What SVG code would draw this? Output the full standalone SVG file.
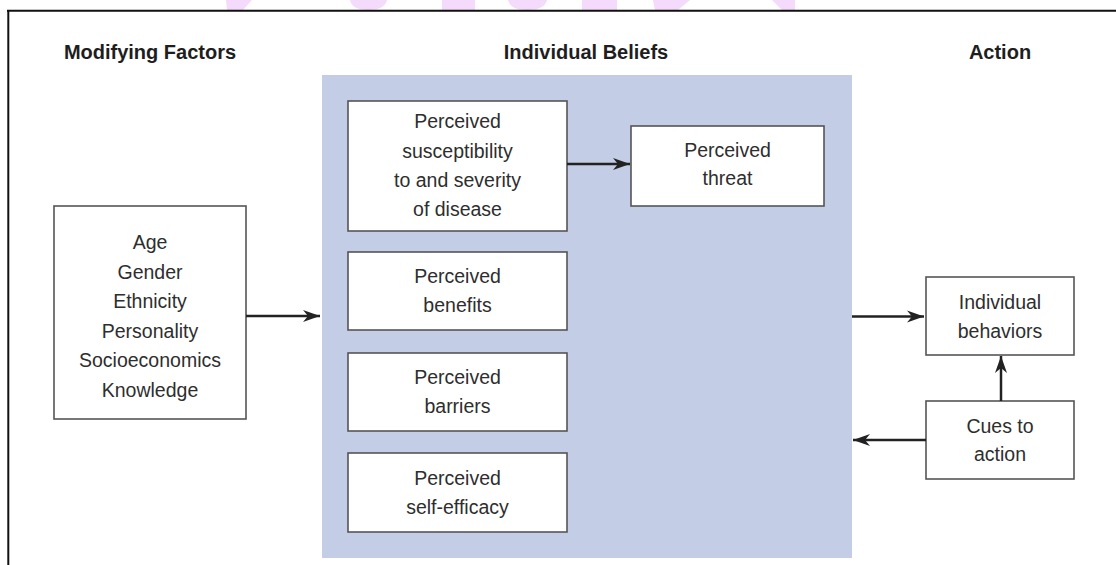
<svg xmlns="http://www.w3.org/2000/svg" width="1116" height="565" viewBox="0 0 1116 565">
<style>
.title{font-family:"Liberation Sans",Arial,sans-serif;font-weight:bold;font-size:20px;fill:#1e1e1e;text-anchor:middle}
.lbl{font-family:"Liberation Sans",Arial,sans-serif;font-size:19.5px;fill:#2e2e2e;text-anchor:middle}
.box{fill:#fff;stroke:#555;stroke-width:1.6}
.conn{stroke:#222;stroke-width:2.5;fill:none}
.wm{fill:#f4dafb}
</style>
<defs>
<marker id="ah" markerUnits="userSpaceOnUse" markerWidth="18" markerHeight="14" refX="17" refY="7" orient="auto">
<path d="M0,1 L17,7 L0,13 L5,7 Z" fill="#222"/>
</marker>
</defs>
<rect width="1116" height="565" fill="#fff"/>
<g id="watermark">
<polygon class="wm" points="226,0 252,0 243,10 227,10"/>
<path class="wm" d="M350,0 L387,0 Q385,10 368,10 Q352,10 350,0 Z"/>
<rect class="wm" x="442" y="0" width="33" height="10"/>
<path class="wm" d="M508,0 L547,0 Q545,10 527,10 Q510,10 508,0 Z"/>
<rect class="wm" x="582" y="0" width="35" height="10"/>
<polygon class="wm" points="653,0 690,0 678,10 655,10"/>
<polygon class="wm" points="772,0 795,0 795,10 782,10"/>
</g>
<g id="frame">
<line x1="7" y1="10.8" x2="1116" y2="10.8" stroke="#111" stroke-width="2"/>
<line x1="8.3" y1="10" x2="8.3" y2="565" stroke="#111" stroke-width="2"/>
</g>
<g id="titles">
<text class="title" x="150" y="59">Modifying Factors</text>
<text class="title" x="586" y="59">Individual Beliefs</text>
<text class="title" x="1000" y="59">Action</text>
</g>
<g id="individual-beliefs-panel">
<rect x="322" y="75" width="530" height="483" fill="#c4cde6"/>
</g>
<g id="modifying-factors">
<rect class="box" x="54" y="206" width="192" height="213"/>
<text class="lbl" x="150" y="249">Age</text>
<text class="lbl" x="150" y="279">Gender</text>
<text class="lbl" x="150" y="308">Ethnicity</text>
<text class="lbl" x="150" y="338">Personality</text>
<text class="lbl" x="150" y="367">Socioeconomics</text>
<text class="lbl" x="150" y="397">Knowledge</text>
</g>
<g id="perceived-susceptibility">
<rect class="box" x="348" y="101" width="219" height="130"/>
<text class="lbl" x="457.5" y="128">Perceived</text>
<text class="lbl" x="457.5" y="158">susceptibility</text>
<text class="lbl" x="457.5" y="187">to and severity</text>
<text class="lbl" x="457.5" y="216">of disease</text>
</g>
<g id="perceived-threat">
<rect class="box" x="631" y="126" width="193" height="80"/>
<text class="lbl" x="727.5" y="157">Perceived</text>
<text class="lbl" x="727.5" y="185">threat</text>
</g>
<g id="perceived-benefits">
<rect class="box" x="348" y="252" width="219" height="78"/>
<text class="lbl" x="457.5" y="283">Perceived</text>
<text class="lbl" x="457.5" y="312">benefits</text>
</g>
<g id="perceived-barriers">
<rect class="box" x="348" y="353" width="219" height="78"/>
<text class="lbl" x="457.5" y="384">Perceived</text>
<text class="lbl" x="457.5" y="413">barriers</text>
</g>
<g id="perceived-self-efficacy">
<rect class="box" x="348" y="453" width="219" height="79"/>
<text class="lbl" x="457.5" y="485">Perceived</text>
<text class="lbl" x="457.5" y="514">self-efficacy</text>
</g>
<g id="individual-behaviors">
<rect class="box" x="926" y="277" width="148" height="78"/>
<text class="lbl" x="1000" y="309">Individual</text>
<text class="lbl" x="1000" y="338">behaviors</text>
</g>
<g id="cues-to-action">
<rect class="box" x="926" y="401" width="148" height="78"/>
<text class="lbl" x="1000" y="433">Cues to</text>
<text class="lbl" x="1000" y="461">action</text>
</g>
<g id="connectors">
<line class="conn" x1="246" y1="316" x2="320" y2="316" marker-end="url(#ah)"/>
<line class="conn" x1="567" y1="164" x2="630" y2="164" marker-end="url(#ah)"/>
<line class="conn" x1="852" y1="316.5" x2="924" y2="316.5" marker-end="url(#ah)"/>
<line class="conn" x1="1001" y1="401" x2="1001" y2="356" marker-end="url(#ah)"/>
<line class="conn" x1="926" y1="440" x2="853" y2="440" marker-end="url(#ah)"/>
</g>
</svg>
